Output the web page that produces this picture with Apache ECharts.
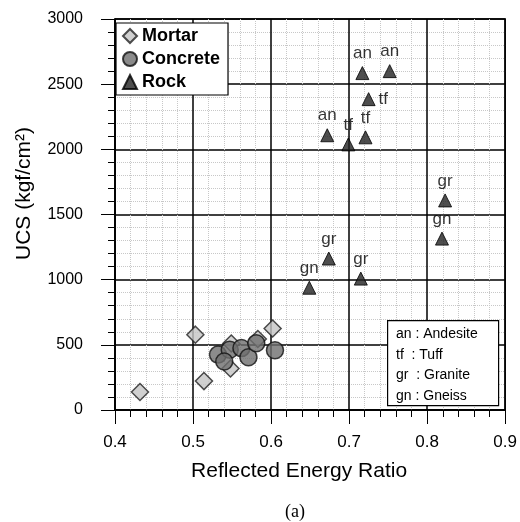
<!DOCTYPE html>
<html>
<head>
<meta charset="utf-8">
<script src="https://cdn.jsdelivr.net/npm/echarts@6/dist/echarts.min.js"></script>
<style>
html,body{margin:0;padding:0;background:#fff;}
#main{width:520px;height:522px;}
</style>
</head>
<body>
<div id="main"></div>
<script>
// values
var mortarX = [0.432, 0.503, 0.514, 0.549, 0.548, 0.583, 0.602];
var mortarY = [138, 578, 222, 510, 318, 545, 625];
var concreteX = [0.532, 0.547, 0.562, 0.571, 0.540, 0.581, 0.605];
var concreteY = [425, 462, 475, 405, 372, 512, 458];
var rockX = [0.717, 0.752, 0.725, 0.672, 0.699, 0.721, 0.823, 0.819, 0.674, 0.715, 0.649];
var rockY = [2585, 2600, 2385, 2108, 2038, 2092, 1608, 1315, 1162, 1008, 938];
var rockLabel = ['an', 'an', 'tf', 'an', 'tf', 'tf', 'gr', 'gn', 'gr', 'gr', 'gn'];
var xTicks = ['0.4', '0.5', '0.6', '0.7', '0.8', '0.9'];
var keyLines = ['an : Andesite', 'tf  : Tuff', 'gr  : Granite', 'gn : Gneiss'];

function pairs(xs, ys){
	var out = [];
	for (var i = 0; i < xs.length; i++) out.push([xs[i], ys[i]]);
	return out;
}

var FONT = '"Liberation Sans", Arial, sans-serif';
var rockData = [];
for (var i = 0; i < rockX.length; i++) {
	rockData.push({
		value: [rockX[i], rockY[i]],
		label: {
			show: true,
			formatter: rockLabel[i],
			position: (i == 2) ? 'right' : 'top',
			distance: (i == 2) ? 3 : 4
		}
	});
}

var myChart = echarts.init(document.getElementById('main'));
var option = {
	backgroundColor: '#fff',
	animation: false,
	grid: {
		left: 115, right: 14, top: 19, bottom: 112,
		show: true, borderColor: '#000', borderWidth: 1.5
	},
	legend: {
		left: 116, top: 23,
		orient: 'vertical',
		itemGap: 5,
		itemWidth: 14, itemHeight: 14,
		padding: [4, 8, 4, 6],
		borderColor: '#000', borderWidth: 1.2,
		backgroundColor: '#fff',
		textStyle: {fontFamily: FONT, fontSize: 18, fontWeight: 'bold', color: '#000'},
		data: ['Mortar', 'Concrete', 'Rock']
	},
	xAxis: {
		type: 'value', min: 0.4, max: 0.9, interval: 0.1,
		name: 'Reflected Energy Ratio', nameLocation: 'middle', nameGap: 51,
		nameTextStyle: {fontFamily: FONT, fontSize: 21, color: '#000', padding: [0, 22, 0, 0]},
		axisLine: {lineStyle: {color: '#000', width: 1.5}},
		axisTick: {show: true, inside: false, length: 14, lineStyle: {color: '#000'}},
		minorTick: {show: true, splitNumber: 5, length: 7, lineStyle: {color: '#000'}},
		axisLabel: {
			fontFamily: FONT, fontSize: 17, color: '#000', margin: 24,
			formatter: function(v){ return xTicks[Math.round((v - 0.4) * 10)]; }
		},
		splitLine: {show: true, lineStyle: {color: '#000', width: 1.5}},
		minorSplitLine: {show: true, lineStyle: {color: '#c8c8c8', type: 'dotted', width: 1}}
	},
	yAxis: {
		type: 'value', min: 0, max: 3000, interval: 500,
		name: 'UCS (kgf/cm²)', nameLocation: 'middle', nameGap: 80,
		nameTextStyle: {fontFamily: FONT, fontSize: 21, color: '#000', padding: [0, 0, 0, 42]},
		axisLine: {lineStyle: {color: '#000', width: 1.5}},
		axisTick: {show: true, inside: false, length: 14, lineStyle: {color: '#000'}},
		minorTick: {show: true, splitNumber: 5, length: 7, lineStyle: {color: '#000'}},
		axisLabel: {
			fontFamily: FONT, fontSize: 16, color: '#000', margin: 32,
			formatter: function(v){ return String(v); }
		},
		splitLine: {show: true, lineStyle: {color: '#000', width: 1.5}},
		minorSplitLine: {show: true, lineStyle: {color: '#c8c8c8', type: 'dotted', width: 1}}
	},
	series: [
		{
			name: 'Mortar', type: 'scatter', symbol: 'diamond', symbolSize: 17,
			itemStyle: {color: '#c4c4c4', borderColor: '#222', borderWidth: 1.5},
			data: pairs(mortarX, mortarY)
		},
		{
			name: 'Concrete', type: 'scatter', symbol: 'circle', symbolSize: 17,
			itemStyle: {color: '#6e6e6e', borderColor: '#111', borderWidth: 1.5},
			data: pairs(concreteX, concreteY)
		},
		{
			name: 'Rock', type: 'scatter', symbol: 'triangle', symbolSize: 13,
			itemStyle: {color: '#222', borderColor: '#000', borderWidth: 1},
			label: {fontFamily: FONT, fontSize: 17, color: '#000'},
			data: rockData
		}
	],
	graphic: [
		{
			type: 'rect', left: 387, top: 320, z: 100,
			shape: {width: 111, height: 85},
			style: {fill: '#fff', stroke: '#000', lineWidth: 1.2}
		},
		{
			type: 'text', left: 396, top: 324, z: 101,
			style: {
				text: keyLines.join('\n'), fontFamily: FONT, fontSize: 14,
				lineHeight: 20.5, fill: '#000'
			}
		},
		{
			type: 'text', left: 285, top: 503, z: 101,
			style: {text: '(a)', fontFamily: '"Liberation Serif", serif', fontSize: 18, fill: '#000'}
		}
	]
};
myChart.setOption(option);
</script>
</body>
</html>
